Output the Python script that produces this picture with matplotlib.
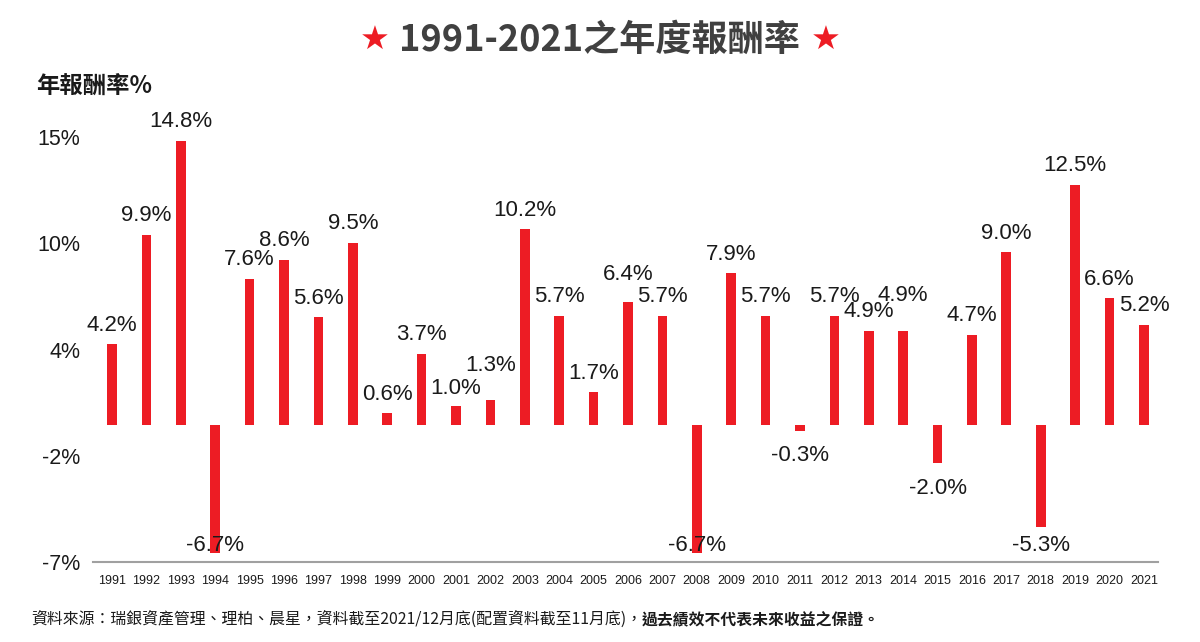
import matplotlib.pyplot as plt
import numpy as np

# data
years = list(range(1991, 2022))
returns = [4.2, 9.9, 14.8, -6.7, 7.6, 8.6, 5.6, 9.5, 0.6, 3.7,
           1.0, 1.3, 10.2, 5.7, 1.7, 6.4, 5.7, -6.7, 7.9, 5.7,
           -0.3, 5.7, 4.9, 4.9, -2.0, 4.7, 9.0, -5.3, 12.5, 6.6, 5.2]
tick_labels = ['15%', '10%', '4%', '-2%', '-7%']
# label nudges (in % units) to keep neighbouring labels apart
label_nudge = {2001: -0.1, 2002: 0.8, 2006: 0.45, 2014: 0.85}

cjk = ['Noto Sans CJK TC', 'DejaVu Sans']
latin = ['Liberation Sans', 'DejaVu Sans']
plt.rcParams['font.family'] = cjk

red = '#ED1C24'
text_col = '#1a1a1a'

fig = plt.figure(figsize=(12, 6.42), dpi=100)
ax = fig.add_axes([93 / 1200, 1 - 562 / 642, 1065 / 1200, 444 / 642])

x = np.arange(len(years))
ax.bar(x, returns, width=0.28, color=red, zorder=2)

for xi, yr, v in zip(x, years, returns):
    if v >= 0:
        ty = v + 1.0
    else:
        ty = max(v - 1.3, -6.3)
    ty += label_nudge.get(yr, 0)
    ax.text(xi, ty, f'{v:.1f}%', ha='center', va='center', fontsize=16,
            family=latin, color=text_col, zorder=3)

ax.set_xlim(-0.552, 30.41)
ax.set_ylim(-7.15, 16.0)

ax.set_xticks(x)
ax.set_xticklabels([str(y) for y in years], fontsize=9, family=latin, color=text_col)
ax.set_yticks(np.linspace(15, -7.15, len(tick_labels)))
ax.set_yticklabels(tick_labels, fontsize=15.5, family=latin, color=text_col)
ax.tick_params(axis='x', length=0, pad=9)
ax.tick_params(axis='y', length=0, pad=9)

for s in ['top', 'right', 'left']:
    ax.spines[s].set_visible(False)
ax.spines['bottom'].set_color('#a0a0a0')
ax.spines['bottom'].set_linewidth(1.5)

# title with red stars
fig.text(599 / 1200, 1 - 40 / 642, '1991-2021之年度報酬率', ha='center', va='center',
         fontsize=26, fontweight='bold', color='#404040')
fig.text(375 / 1200, 1 - 40 / 642, '★', ha='center', va='center',
         fontsize=24, color=red, family='DejaVu Sans')
fig.text(826 / 1200, 1 - 40 / 642, '★', ha='center', va='center',
         fontsize=24, color=red, family='DejaVu Sans')

# axis title
fig.text(36 / 1200, 1 - 87 / 642, '年報酬率%', ha='left', va='center',
         fontsize=16.8, fontweight='bold', color=text_col)

# footer: normal part, then bold part on the same baseline
foot_y = 1 - 624 / 642
t1 = fig.text(31 / 1200, foot_y,
              '資料來源：瑞銀資產管理、理柏、晨星，資料截至2021/12月底(配置資料截至11月底)，',
              ha='left', va='baseline', fontsize=11.4, color=text_col)
fig.canvas.draw()
bb = t1.get_window_extent()
fig.text(bb.x1 / fig.bbox.width, foot_y, '過去績效不代表未來收益之保證。',
         ha='left', va='baseline', fontsize=11.4, fontweight='bold', color=text_col)

fig.savefig('out.png', dpi=100)
